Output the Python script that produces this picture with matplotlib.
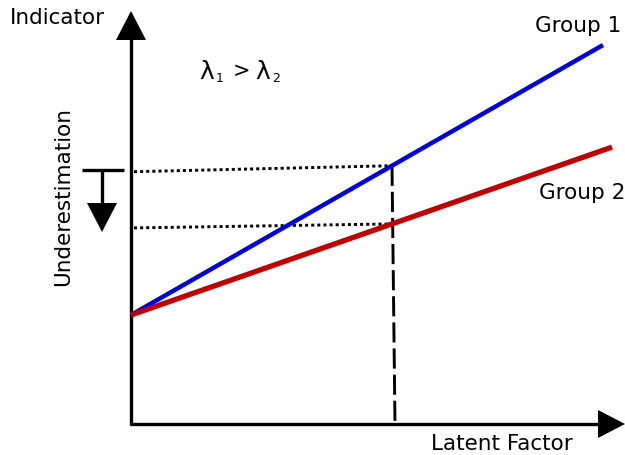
import numpy as np
import matplotlib
matplotlib.use('Agg')
import matplotlib.pyplot as plt

plt.rcParams['font.family'] = ['DejaVu Sans']
plt.rcParams['lines.scale_dashes'] = False

# two groups share the intercept, group 1 has the larger loading
intercept = 109
slopes = [0.572, 0.349]
x_ends = [472, 481]
colors = ['#0000e6', '#c00000']
widths = [3.2, 3.8]
labels = ['Group 1', 'Group 2']
label_pos = [(447, 399), (451, 232)]

# chosen latent value and where its projections meet the indicator axis
x0_top, x0_bottom = 261, 264
y_left_offset = [-6, -4]

fig = plt.figure(figsize=(6.25, 4.56), dpi=100)
ax = fig.add_axes([0, 0, 1, 1])
ax.set_xlim(-131, 494)
ax.set_ylim(-31, 425)
ax.axis('off')

# axes with arrowheads
ax.plot([0, 0], [-1, 390], color='black', lw=2.4, solid_capstyle='butt')
ax.fill([-15, 15, 0], [384, 384, 413], color='black', lw=0)
ax.plot([-1, 470], [0, 0], color='black', lw=2.4, solid_capstyle='butt')
ax.fill([467, 467, 494], [-14, 14, 0], color='black', lw=0)

# regression lines
for s, xe, c, w in zip(slopes, x_ends, colors, widths):
    xs = np.array([0, xe])
    ax.plot(xs, intercept + s * xs, color=c, lw=w, solid_capstyle='butt', zorder=3)

# projections onto the indicator axis
for s, off in zip(slopes, y_left_offset):
    yv = intercept + s * x0_top
    ax.plot([3, x0_top], [yv + off, yv], color='black', lw=2.1,
            linestyle=(0, (2.2, 2.2)), zorder=2)
yv1 = intercept + slopes[0] * x0_top
ax.plot([x0_top, x0_bottom], [yv1, 0], color='black', lw=2.1,
        linestyle=(0, (14.5, 4.3)), zorder=2)

# underestimation marker
ax.plot([-49, -7], [254, 254], color='black', lw=2.4, solid_capstyle='butt')
ax.plot([-29, -29], [254, 218], color='black', lw=2.4, solid_capstyle='butt')
ax.fill([-44, -14, -29], [221, 221, 192], color='black', lw=0)

fs = 15.5
ax.text(-74, 407, 'Indicator', fontsize=fs, ha='center', va='center')
ax.text(371, -19, 'Latent Factor', fontsize=fs, ha='center', va='center')
ax.text(-68, 228, 'Underestimation', fontsize=fs, ha='center', va='center', rotation=90)
for lab, (lx, ly) in zip(labels, label_pos):
    ax.text(lx, ly, lab, fontsize=fs, ha='center', va='center')

# lambda_1 > lambda_2 with small subscripts
ax.text(68, 346, 'λ', fontsize=18, ha='left', va='baseline')
ax.text(85, 343, '1', fontsize=9, ha='left', va='baseline')
ax.text(102, 348, '>', fontsize=15, ha='left', va='baseline')
ax.text(124, 346, 'λ', fontsize=18, ha='left', va='baseline')
ax.text(141, 343, '2', fontsize=9, ha='left', va='baseline')

fig.savefig('out.png', dpi=100)
